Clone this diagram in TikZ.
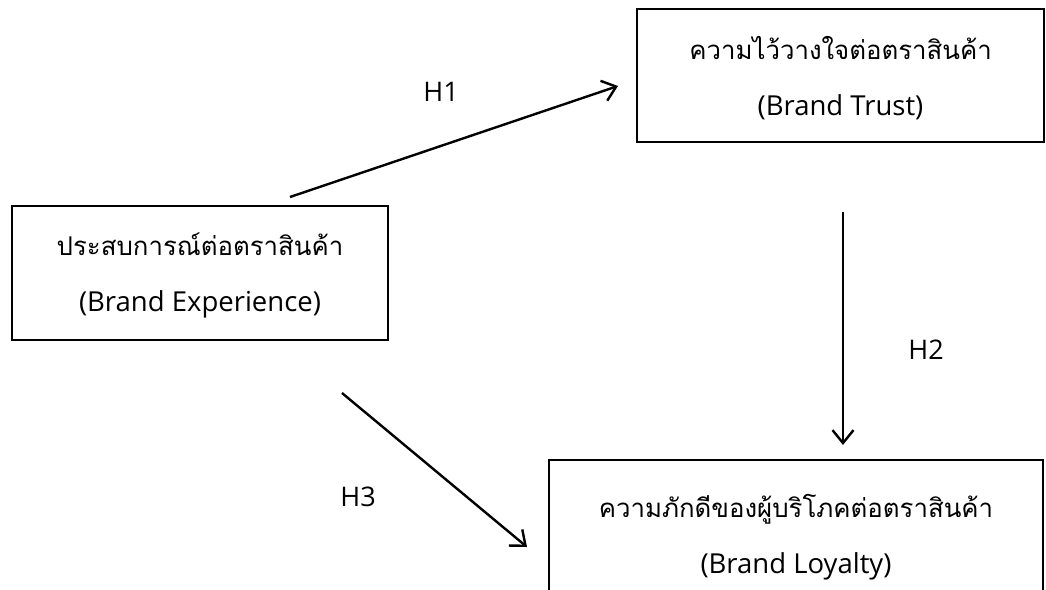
\documentclass[tikz,border=0pt]{standalone}
\usepackage{fontspec}
\setmainfont{Open Sans}
\newfontfamily\thai[Script=Thai]{Loma}
\usetikzlibrary{arrows.meta}
\newcommand\lowerby[2]{\raisebox{-#1}[\height][\depth]{#2}}
\newcommand\thline[1]{{\thai\fontsize{25.8}{30}\selectfont #1}}
\begin{document}
\begin{tikzpicture}[x=1pt,y=-1pt,
  box/.style={draw=black, line width=2pt, inner sep=0pt, align=center,
    font=\fontsize{27.5}{30}\selectfont},
  conn/.style={line width=2.4pt, -{Straight Barb[length=13pt,width=21pt,line width=2.4pt]}},
  hlab/.style={font=\fontsize{27}{30}\selectfont, inner sep=0pt}]
\useasboundingbox (0,0) rectangle (1046,589);
\node[box, minimum width=376pt, minimum height=134pt] (exp) at (200,273)
  {\lowerby{2pt}{\thline{ประสบการณ์ต่อตราสินค้า}}\\[26pt]\lowerby{2pt}{(Brand Experience)}};
\node[box, minimum width=407pt, minimum height=133pt] (trust) at (840.5,75.5)
  {\lowerby{3pt}{\thline{ความไว้วางใจต่อตราสินค้า}}\\[26pt]\lowerby{3pt}{(Brand Trust)}};
\node[box, minimum width=494pt, minimum height=140pt, anchor=north west] (loyal) at (548,459)
  {\lowerby{7pt}{\thline{ความภักดีของผู้บริโภคต่อตราสินค้า}}\\[26pt]\lowerby{7pt}{(Brand Loyalty)}};
\coordinate (h1s) at (290,197);
\coordinate (h1e) at (618,86);
\coordinate (h2s) at (843,212);
\coordinate (h2e) at (843,445);
\coordinate (h3s) at (342,393);
\coordinate (h3e) at (527,547);
\draw[conn] (h1s) -- (h1e);
\draw[conn] (h2s) -- (h2e);
\draw[conn] (h3s) -- (h3e);
\node[hlab] (l1) at (441,92) {H1};
\node[hlab] (l2) at (926,350) {H2};
\node[hlab] (l3) at (358,497) {H3};
\end{tikzpicture}
\end{document}
